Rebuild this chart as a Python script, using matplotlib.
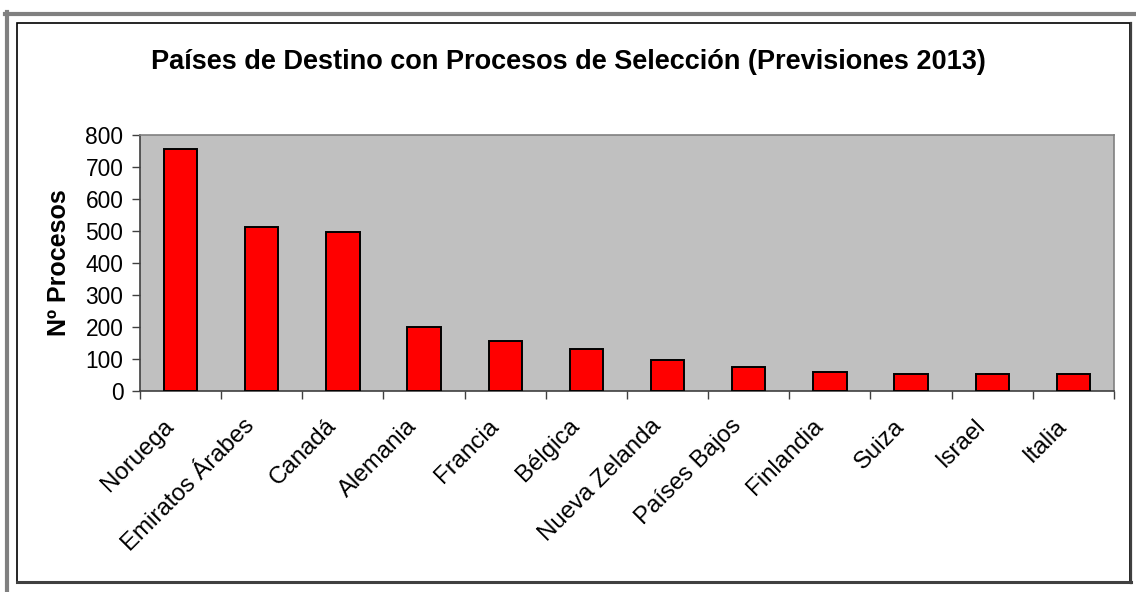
import matplotlib
matplotlib.use("Agg")
import matplotlib.pyplot as plt
import matplotlib.transforms as mtransforms
from matplotlib.lines import Line2D
from matplotlib.patches import Rectangle

countries = ["Noruega", "Emiratos Árabes", "Canadá", "Alemania", "Francia", "Bélgica",
             "Nueva Zelanda", "Países Bajos", "Finlandia", "Suiza", "Israel", "Italia"]
procesos = [755, 514, 497, 200, 155, 132, 98, 76, 58, 52, 52, 52]
yticks = [0, 100, 200, 300, 400, 500, 600, 700, 800]
title = "Países de Destino con Procesos de Selección (Previsiones 2013)"
ylabel = "Nº Procesos"

plt.rcParams['font.family'] = ['Liberation Sans', 'DejaVu Sans']

W, H = 1136, 592
fig = plt.figure(figsize=(W / 100, H / 100), dpi=100)
fig.patch.set_facecolor('white')

def fx(px):
    return px / W

def fy(py):
    return 1 - py / H

# outer gray border (top and left)
fig.add_artist(Line2D([fx(5), fx(1136)], [fy(13.5), fy(13.5)], color='#808080', lw=3, transform=fig.transFigure))
fig.add_artist(Line2D([fx(6.5), fx(6.5)], [fy(12), fy(592)], color='#808080', lw=3, transform=fig.transFigure))
# inner frame
fig.add_artist(Rectangle((fx(17), fy(582)), fx(1130) - fx(17), fy(23) - fy(582), fill=False,
                         edgecolor='black', lw=1.2, transform=fig.transFigure))
fig.add_artist(Line2D([fx(17), fx(1131)], [fy(582), fy(582)], color='#404040', lw=2.2, transform=fig.transFigure))
fig.add_artist(Line2D([fx(1130.5), fx(1130.5)], [fy(23), fy(583)], color='#404040', lw=1.6, transform=fig.transFigure))

ax = fig.add_axes([fx(140), fy(391), fx(1114) - fx(140), fy(135) - fy(391)])
ax.set_facecolor('#C0C0C0')

x = list(range(len(countries)))
ax.bar(x, procesos, width=0.41, color='#FF0000', edgecolor='black', linewidth=1.4, zorder=3)

ax.set_xlim(-0.5, len(countries) - 0.5)
ax.set_ylim(0, 800)
ax.set_yticks(yticks)
ax.set_yticklabels([str(v) for v in yticks], fontsize=16.4)
ax.tick_params(axis='y', direction='out', length=6, width=1, color='#404040', pad=6)

# category boundary ticks
ax.set_xticks([i + 0.5 for i in range(-1, len(countries))])
ax.set_xticklabels([])
ax.tick_params(axis='x', which='major', direction='out', length=6, width=1, color='#404040')

# category labels, rotated
trans = mtransforms.blended_transform_factory(ax.transData, ax.transAxes)
offset = mtransforms.ScaledTranslation(-18 / 100, -24 / 100, fig.dpi_scale_trans)
for xi, name in zip(x, countries):
    ax.text(xi, 0, name, transform=trans + offset, rotation=45, ha='right', va='top',
            rotation_mode='anchor', fontsize=17.3, clip_on=False)

for s in ['top', 'right']:
    ax.spines[s].set_color('#808080')
    ax.spines[s].set_linewidth(1.2)
for s in ['left', 'bottom']:
    ax.spines[s].set_color('#404040')
    ax.spines[s].set_linewidth(1.2)

ax.set_ylabel(ylabel, fontsize=18, fontweight='bold', labelpad=10)
fig.text(fx(568), fy(62), title, fontsize=19.5, fontweight='bold', ha='center', va='center')

fig.savefig("out.png", dpi=100, facecolor='white')
